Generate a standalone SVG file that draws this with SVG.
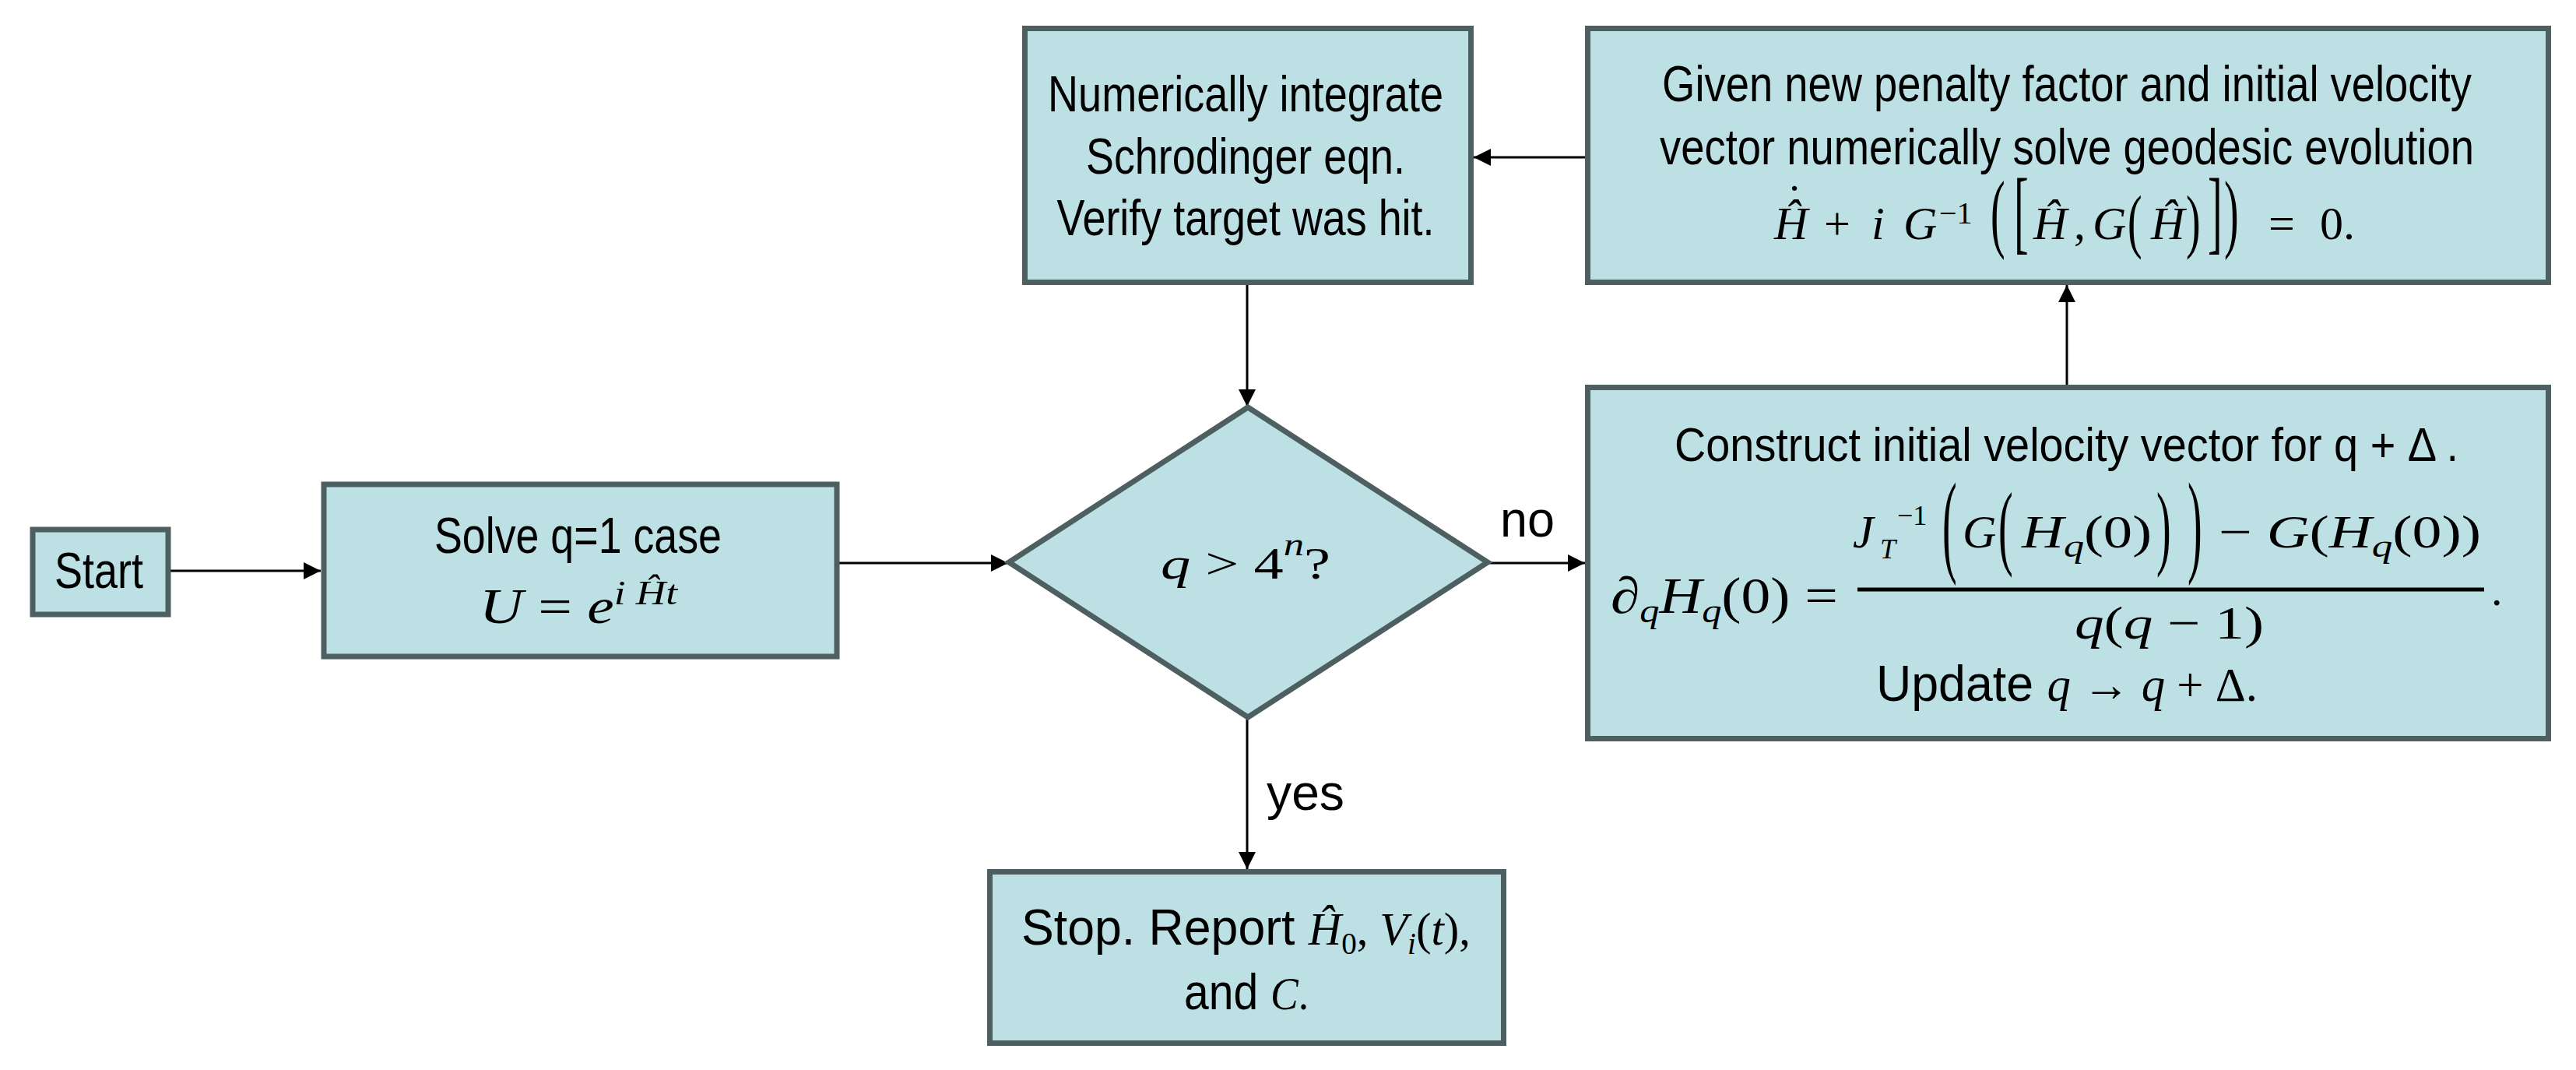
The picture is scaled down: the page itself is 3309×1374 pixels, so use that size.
<svg xmlns="http://www.w3.org/2000/svg" width="3309" height="1374" viewBox="0 0 3309 1374">
<defs>
<style>
.box{fill:#BCE0E3;stroke:#4D5F61;stroke-width:7;}
.t{font-family:"Liberation Sans",Arial,sans-serif;font-size:64px;fill:#000;text-anchor:middle;}
.tl{font-family:"Liberation Sans",Arial,sans-serif;font-size:62px;fill:#000;text-anchor:middle;}
.s{font-family:"Liberation Sans",Arial,sans-serif;font-style:normal;}
.mt{font-family:"Liberation Serif","Times New Roman",serif;font-style:normal;fill:#000;}
.i{font-family:"Liberation Serif","Times New Roman",serif;font-style:italic;}
.conn{stroke:#000;stroke-width:3;fill:none;marker-end:url(#ah);}
.lbl{font-family:"Liberation Sans",Arial,sans-serif;font-size:65px;fill:#000;text-anchor:middle;}
</style>
<marker id="ah" viewBox="0 0 22 22" refX="22" refY="11" markerWidth="22" markerHeight="22" orient="auto" markerUnits="userSpaceOnUse">
<path d="M0,0 L22,11 L0,22 z" fill="#000"/>
</marker>
</defs>
<rect width="3309" height="1374" fill="#fff"/>

<g id="connectors">
<line class="conn" x1="219" y1="733" x2="412" y2="733"/>
<line class="conn" x1="1078" y1="723" x2="1295" y2="723"/>
<line class="conn" x1="1602" y1="366" x2="1602" y2="522"/>
<line class="conn" x1="1602" y1="922" x2="1602" y2="1116"/>
<line class="conn" x1="1911" y1="723" x2="2036" y2="723"/>
<line class="conn" x1="2655" y1="494" x2="2655" y2="366"/>
<line class="conn" x1="2036" y1="202" x2="1893" y2="202"/>
<text class="lbl" x="1962" y="689" textLength="70" lengthAdjust="spacingAndGlyphs">no</text>
<text class="lbl" x="1677" y="1040" textLength="100" lengthAdjust="spacingAndGlyphs">yes</text>
</g>

<g id="node-start">
<rect class="box" x="42" y="680" width="174" height="109"/>
<text class="t" x="127" y="755" textLength="114" lengthAdjust="spacingAndGlyphs">Start</text>
</g>

<g id="node-solve">
<rect class="box" x="416" y="622" width="659" height="221"/>
<text class="t" x="742.5" y="710" textLength="369" lengthAdjust="spacingAndGlyphs">Solve q=1 case</text>
<text class="mt" x="616" y="800" font-size="64" textLength="254" lengthAdjust="spacingAndGlyphs"><tspan class="i">U</tspan> = <tspan class="i">e</tspan><tspan class="i" font-size="44" dy="-24">i Ĥt</tspan></text>
</g>

<g id="node-decision">
<polygon class="box" points="1603,523 1911,722 1603,921 1296,722"/>
<text class="mt" x="1491" y="743" font-size="58" textLength="218" lengthAdjust="spacingAndGlyphs"><tspan class="i">q</tspan> &gt; 4<tspan class="i" font-size="40" dy="-30">n</tspan><tspan dy="30">?</tspan></text>
</g>

<g id="node-integrate">
<rect class="box" x="1316.5" y="36.5" width="573" height="326"/>
<text class="t" x="1600" y="143" textLength="508" lengthAdjust="spacingAndGlyphs">Numerically integrate</text>
<text class="t" x="1600" y="223" textLength="410" lengthAdjust="spacingAndGlyphs">Schrodinger eqn.</text>
<text class="t" x="1600" y="302" textLength="485" lengthAdjust="spacingAndGlyphs">Verify target was hit.</text>
</g>

<g id="node-geodesic">
<rect class="box" x="2039.5" y="36.5" width="1234" height="326"/>
<text class="t" transform="translate(2655,130) scale(0.85,1)">Given new penalty factor and initial velocity</text>
<text class="t" transform="translate(2655,211) scale(0.85,1)">vector numerically solve geodesic evolution</text>
<text class="mt" y="307" font-size="60"><tspan class="i" x="2279">Ĥ</tspan><tspan x="2343">+</tspan><tspan class="i" x="2404">i</tspan><tspan class="i" x="2445">G</tspan><tspan x="2491" y="287" font-size="40">−1</tspan><tspan class="i" x="2612" y="307">Ĥ</tspan><tspan x="2664">,</tspan><tspan class="i" x="2688">G</tspan><tspan class="i" x="2763">Ĥ</tspan><tspan x="2914">=</tspan><tspan x="2980">0.</tspan><tspan x="2295" y="278">˙</tspan></text>
<text class="mt" font-size="56" transform="matrix(1,0,0,1.99,2557,310)">(</text>
<text class="mt" font-size="56" transform="matrix(1,0,0,2.12,2587,311)">[</text>
<text class="mt" font-size="56" transform="matrix(1,0,0,1.64,2733,314)">(</text>
<text class="mt" font-size="56" transform="matrix(1,0,0,1.64,2808,314)">)</text>
<text class="mt" font-size="56" transform="matrix(1,0,0,2.12,2836,311)">]</text>
<text class="mt" font-size="56" transform="matrix(1,0,0,1.99,2857,310)">)</text>
</g>

<g id="node-construct">
<rect class="box" x="2039.5" y="497.5" width="1234" height="451"/>
<text class="tl" x="2654.5" y="592" textLength="1007" lengthAdjust="spacingAndGlyphs">Construct initial velocity vector for q + Δ .</text>
<text class="mt" x="2069" y="787" font-size="66" textLength="292" lengthAdjust="spacingAndGlyphs"><tspan class="i">∂</tspan><tspan class="i" font-size="44" dy="12">q</tspan><tspan class="i" dy="-12">H</tspan><tspan class="i" font-size="44" dy="12">q</tspan><tspan dy="-12">(0) =</tspan></text>
<text class="mt i" x="2380" y="703" font-size="60">J</text>
<text class="mt" x="2437" y="674" font-size="36">−1</text>
<text class="mt i" x="2415" y="717" font-size="36">T</text>
<text class="mt" font-size="56" transform="matrix(1,0,0,2.6,2495,721)">(</text>
<text class="mt i" x="2521" y="703" font-size="60">G</text>
<text class="mt" font-size="56" transform="matrix(1,0,0,2.15,2567,716)">(</text>
<text class="mt" x="2597" y="703" font-size="60" textLength="167" lengthAdjust="spacingAndGlyphs"><tspan class="i">H</tspan><tspan class="i" font-size="42" dy="12">q</tspan><tspan dy="-12">(0)</tspan></text>
<text class="mt" font-size="56" transform="matrix(1,0,0,2.15,2770,716)">)</text>
<text class="mt" font-size="56" transform="matrix(1,0,0,2.6,2810,721)">)</text>
<text class="mt" x="2850" y="703" font-size="60" textLength="337" lengthAdjust="spacingAndGlyphs">− <tspan class="i">G</tspan>(<tspan class="i">H</tspan><tspan class="i" font-size="42" dy="12">q</tspan><tspan dy="-12">(0))</tspan></text>
<rect x="2386" y="754.5" width="805" height="5" fill="#000"/>
<text class="mt" x="3200" y="777" font-size="58">.</text>
<text class="mt" x="2665" y="820" font-size="60" textLength="243" lengthAdjust="spacingAndGlyphs"><tspan class="i">q</tspan>(<tspan class="i">q</tspan> − 1)</text>
<text class="mt" x="2410" y="900" font-size="62" textLength="490" lengthAdjust="spacingAndGlyphs"><tspan class="s" font-size="64">Update </tspan><tspan class="i">q</tspan> → <tspan class="i">q</tspan> + Δ.</text>
</g>

<g id="node-stop">
<rect class="box" x="1271.5" y="1119.5" width="660" height="220"/>
<text class="mt" x="1312" y="1213" font-size="60" textLength="577" lengthAdjust="spacingAndGlyphs"><tspan class="s" font-size="64">Stop. Report </tspan><tspan class="i">Ĥ</tspan><tspan font-size="40" dy="12">0</tspan><tspan dy="-12">, </tspan><tspan class="i">V</tspan><tspan class="i" font-size="40" dy="12">i</tspan><tspan dy="-12">(</tspan><tspan class="i">t</tspan>),</text>
<text class="mt" x="1521" y="1296" font-size="60" textLength="160" lengthAdjust="spacingAndGlyphs"><tspan class="s" font-size="64">and </tspan><tspan class="i">C</tspan>.</text>
</g>
</svg>
